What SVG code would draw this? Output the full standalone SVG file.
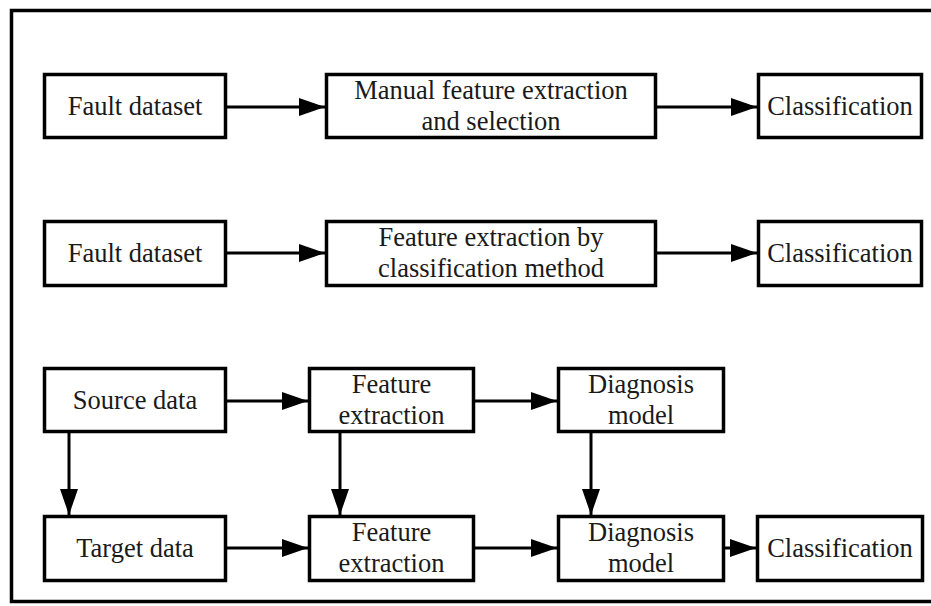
<svg xmlns="http://www.w3.org/2000/svg" width="931" height="606" viewBox="0 0 931 606">
<style>
.box{fill:#fff;stroke:#000;stroke-width:3.5}
.lbl{font-family:"Liberation Serif","Times New Roman",serif;font-size:26.5px;fill:#1a1a1a;text-anchor:middle}
.conn{stroke:#000;stroke-width:3;fill:none;marker-end:url(#ah)}
</style>
<defs>
<marker id="ah" markerUnits="userSpaceOnUse" markerWidth="27" markerHeight="19" refX="26" refY="9" orient="auto">
<path d="M0,0 L26,9 L0,18 Z" fill="#000"/>
</marker>
</defs>
<rect width="931" height="606" fill="#fff"/>
<rect x="11.5" y="10.5" width="930" height="591" fill="none" stroke="#000" stroke-width="3.5"/>

<g id="r1-fault">
<rect class="box" x="44.5" y="74.5" width="181" height="63"/>
<text class="lbl" x="135" y="115">Fault dataset</text>
</g>
<g id="r1-manual">
<rect class="box" x="326.5" y="74.5" width="329" height="63"/>
<text class="lbl" x="491" y="99">Manual feature extraction</text>
<text class="lbl" x="491" y="130">and selection</text>
</g>
<g id="r1-class">
<rect class="box" x="758.5" y="74.5" width="163" height="63"/>
<text class="lbl" x="840" y="115">Classification</text>
</g>

<g id="r2-fault">
<rect class="box" x="44.5" y="221.5" width="181" height="64"/>
<text class="lbl" x="135" y="262">Fault dataset</text>
</g>
<g id="r2-feat">
<rect class="box" x="326.5" y="221.5" width="329" height="64"/>
<text class="lbl" x="491" y="246">Feature extraction by</text>
<text class="lbl" x="491" y="277">classification method</text>
</g>
<g id="r2-class">
<rect class="box" x="758.5" y="221.5" width="163" height="64"/>
<text class="lbl" x="840" y="262">Classification</text>
</g>

<g id="r3-source">
<rect class="box" x="44.5" y="368.5" width="181" height="63"/>
<text class="lbl" x="135" y="409">Source data</text>
</g>
<g id="r3-feat">
<rect class="box" x="309.5" y="368.5" width="164" height="63"/>
<text class="lbl" x="391.5" y="393">Feature</text>
<text class="lbl" x="391.5" y="424">extraction</text>
</g>
<g id="r3-diag">
<rect class="box" x="558.5" y="368.5" width="165" height="63"/>
<text class="lbl" x="641" y="393">Diagnosis</text>
<text class="lbl" x="641" y="424">model</text>
</g>

<g id="r4-target">
<rect class="box" x="44.5" y="516.5" width="181" height="64"/>
<text class="lbl" x="135" y="557">Target data</text>
</g>
<g id="r4-feat">
<rect class="box" x="309.5" y="516.5" width="164" height="64"/>
<text class="lbl" x="391.5" y="541">Feature</text>
<text class="lbl" x="391.5" y="572">extraction</text>
</g>
<g id="r4-diag">
<rect class="box" x="558.5" y="516.5" width="165" height="64"/>
<text class="lbl" x="641" y="541">Diagnosis</text>
<text class="lbl" x="641" y="572">model</text>
</g>
<g id="r4-class">
<rect class="box" x="757.5" y="516.5" width="165" height="64"/>
<text class="lbl" x="840" y="557">Classification</text>
</g>

<g id="connectors">
<line class="conn" x1="227" y1="107" x2="325" y2="107"/>
<line class="conn" x1="657" y1="107" x2="757" y2="107"/>
<line class="conn" x1="227" y1="253" x2="325" y2="253"/>
<line class="conn" x1="657" y1="253" x2="757" y2="253"/>
<line class="conn" x1="227" y1="401" x2="308" y2="401"/>
<line class="conn" x1="475" y1="401" x2="557" y2="401"/>
<line class="conn" x1="227" y1="548" x2="308" y2="548"/>
<line class="conn" x1="475" y1="548" x2="557" y2="548"/>
<line class="conn" x1="725" y1="548" x2="756" y2="548"/>
<line class="conn" x1="69" y1="433" x2="69" y2="515"/>
<line class="conn" x1="340" y1="433" x2="340" y2="515"/>
<line class="conn" x1="591" y1="433" x2="591" y2="515"/>
</g>
</svg>
